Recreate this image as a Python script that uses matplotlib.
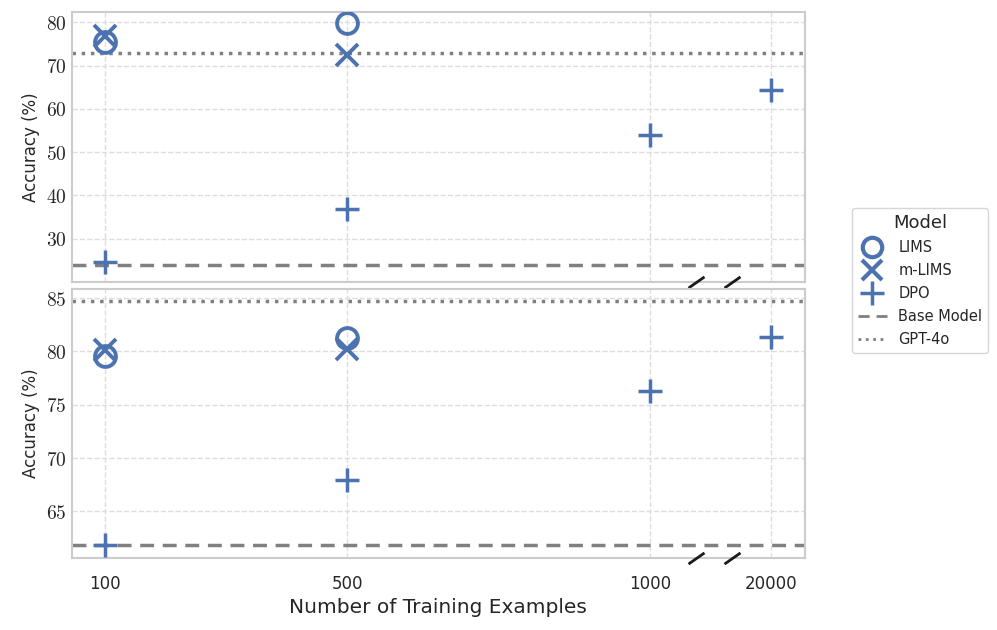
import numpy as np
import matplotlib
matplotlib.use("Agg")
import matplotlib.pyplot as plt
import seaborn as sns
from matplotlib.lines import Line2D

sns.set_theme(style="whitegrid")
plt.rcParams['font.family'] = ['DejaVu Sans']
plt.rcParams['mathtext.fontset'] = 'cm'

# data
x_labels = ['100', '500', '1000', '20000']
x_pos = [100, 500, 1000, 1200]   # 20000 is drawn after a broken axis

top_lims_x = [100, 500]
top_lims = [75.5, 79.8]
top_mlims = [76.9, 72.4]
top_dpo = [24.7, 36.9, 53.9, 64.4]
top_base = 24.0
top_gpt = 72.9

bot_lims = [79.6, 81.3]
bot_mlims = [80.1, 80.2]
bot_dpo = [61.8, 67.9, 76.3, 81.4]
bot_base = 61.8
bot_gpt = 84.7

blue = '#4c72b0'
grey = '#808080'

fig, axes = plt.subplots(2, 1, figsize=(9.97, 6.3), dpi=100, sharex=True)
fig.subplots_adjust(left=0.072, right=0.807, top=0.981, bottom=0.114, hspace=0.026)

panels = [
    (axes[0], top_lims, top_mlims, top_dpo, top_base, top_gpt, [30, 40, 50, 60, 70, 80], (20.1, 82.4)),
    (axes[1], bot_lims, bot_mlims, bot_dpo, bot_base, bot_gpt, [65, 70, 75, 80, 85], (60.6, 85.9)),
]

for ax, lims, mlims, dpo, base, gpt, yt, yl in panels:
    ax.plot(top_lims_x, lims, linestyle='none', marker='o', markersize=15,
            markerfacecolor='none', markeredgecolor=blue, markeredgewidth=2.8, zorder=3)
    ax.plot(top_lims_x, mlims, linestyle='none', marker='x', markersize=16,
            color=blue, markeredgewidth=2.8, zorder=3)
    ax.plot(x_pos, dpo, linestyle='none', marker='+', markersize=17,
            color=blue, markeredgewidth=2.5, zorder=3)
    ax.axhline(base, color=grey, linestyle='--', linewidth=2.5, dashes=(4, 2.5), zorder=2)
    ax.axhline(gpt, color=grey, linestyle=':', linewidth=2.5, zorder=2)
    ax.set_yticks(yt)
    ax.set_yticklabels(['$%d$' % v for v in yt], fontsize=14)
    ax.set_ylim(*yl)
    ax.set_ylabel('Accuracy (%)', fontsize=12)
    ax.grid(True, linestyle='--', color='#dddddd', linewidth=1)
    for s in ax.spines.values():
        s.set_color('#cccccc')
        s.set_linewidth(1.5)
    ax.tick_params(axis='both', length=0, pad=4)
    # axis break marks
    ax.plot([1075, 1135], [0, 0], linestyle='none', marker=[(-1, -0.7), (1, 0.7)],
            markersize=11.5, markeredgewidth=2, color='k',
            transform=ax.get_xaxis_transform(), clip_on=False, zorder=5)

axes[1].set_xticks(x_pos)
axes[1].set_xticklabels(x_labels, fontsize=12)
axes[1].set_xlim(45, 1255)
axes[1].set_xlabel('Number of Training Examples', fontsize=14.5)
axes[1].tick_params(axis='x', pad=12)

handles = [
    Line2D([], [], linestyle='none', marker='o', markersize=14, markerfacecolor='none',
           markeredgecolor=blue, markeredgewidth=3),
    Line2D([], [], linestyle='none', marker='x', markersize=15, color=blue, markeredgewidth=3),
    Line2D([], [], linestyle='none', marker='+', markersize=17, color=blue, markeredgewidth=2.5),
    Line2D([], [], color=grey, linestyle='--', linewidth=2, dashes=(4, 2.5)),
    Line2D([], [], color=grey, linestyle=':', linewidth=2),
]
labels = ['LIMS', 'm-LIMS', 'DPO', 'Base Model', 'GPT-4o']
leg = fig.legend(handles, labels, title='Model', loc='center left',
                 bbox_to_anchor=(0.847, 0.555), fontsize=10.5, title_fontsize=13,
                 frameon=True, handlelength=2, labelspacing=0.55, borderpad=0.4)
leg.get_frame().set_edgecolor('#cccccc')

fig.savefig('out.png', dpi=100)
